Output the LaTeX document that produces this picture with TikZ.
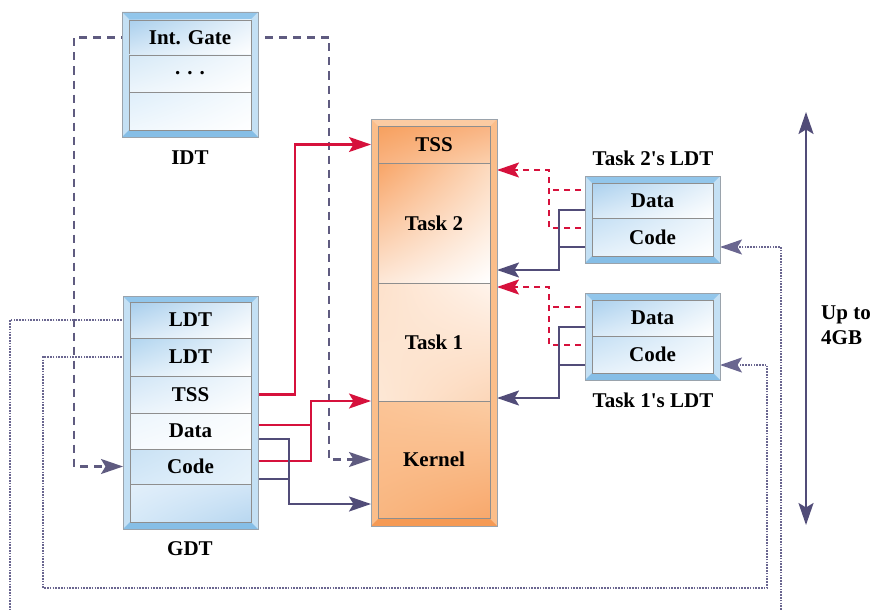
\documentclass[tikz,border=0pt]{standalone}
\usepackage{fontspec}
\setmainfont{Liberation Serif}
\usetikzlibrary{arrows.meta,calc,backgrounds,shadings}

% line colours
\definecolor{redc}{HTML}{D6113C}
\definecolor{purpc}{HTML}{514C78}
\definecolor{gatec}{HTML}{5F5B80}
\definecolor{dotc}{HTML}{6A6690}
\definecolor{rowgray}{HTML}{8E8E8E}
\definecolor{framegray}{HTML}{9AA3AC}
% blue tables
\definecolor{bside}{HTML}{C4E0F4}
\definecolor{btop}{HTML}{92C6EB}
\definecolor{bbot}{HTML}{86BEE6}
\definecolor{bGate}{HTML}{A9CFED}
\definecolor{bDots}{HTML}{D6E9F7}
\definecolor{bPale}{HTML}{DEEEFA}
\definecolor{bLdtA}{HTML}{A6CDEC}
\definecolor{bLdtB}{HTML}{B0D4EF}
\definecolor{bTSS}{HTML}{D0E5F6}
\definecolor{bData}{HTML}{ECF5FC}
\definecolor{bCodeA}{HTML}{C8E1F4}
\definecolor{bCodeB}{HTML}{E1EFFA}
\definecolor{bCodeC}{HTML}{D6E9F8}
\definecolor{bCodeD}{HTML}{E8F3FB}
\definecolor{bLowA}{HTML}{E2EFFA}
\definecolor{bLowB}{HTML}{D2E6F7}
\definecolor{bLowC}{HTML}{D6E9F8}
\definecolor{bLowD}{HTML}{B8D7F0}
\definecolor{bLdtData}{HTML}{AAD0EE}
\definecolor{bLdtCode}{HTML}{C4DFF4}
% orange column
\definecolor{oside}{HTML}{FBBE8A}
\definecolor{otop}{HTML}{FBCBA2}
\definecolor{obot}{HTML}{F59A55}
\definecolor{oTssA}{HTML}{F7A05E}
\definecolor{oTssB}{HTML}{F9B483}
\definecolor{oTssC}{HTML}{F9B27F}
\definecolor{oTssD}{HTML}{FBD0AD}
\definecolor{oTbA}{HTML}{F8A466}
\definecolor{oTbB}{HTML}{FCD9BD}
\definecolor{oTbC}{HTML}{FDE8D8}
\definecolor{oTaA}{HTML}{FDE1CB}
\definecolor{oTaB}{HTML}{FFF4EC}
\definecolor{oTaC}{HTML}{FDE8D6}
\definecolor{oTaD}{HTML}{FCD6B8}
\definecolor{oKA}{HTML}{FBC496}
\definecolor{oKB}{HTML}{FBCCA3}
\definecolor{oKC}{HTML}{F9B680}
\definecolor{oKD}{HTML}{F8A86C}

\newcommand\rowfont{\fontsize{21}{25}\selectfont\bfseries}

% bevelled frame drawn from the corners of a frame node
\newcommand\bevelframe[4]{%
  \fill[#2] (#1.south west) rectangle (#1.north east);
  \fill[#3] (#1.north west) -- (#1.north east) -- ([shift={(-7pt,-7pt)}]#1.north east)
            -- ([shift={(7pt,-7pt)}]#1.north west) -- cycle;
  \fill[#4] (#1.south west) -- (#1.south east) -- ([shift={(-7pt,7pt)}]#1.south east)
            -- ([shift={(7pt,7pt)}]#1.south west) -- cycle;
  \draw[framegray, line width=0.8pt] (#1.south west) rectangle (#1.north east);
}

\tikzset{
  framenode/.style={inner sep=0pt, outer sep=0pt, anchor=north west},
  rownode/.style={inner sep=0pt, outer sep=0pt, anchor=north west, font=\rowfont,
                  draw=rowgray, line width=0.9pt},
  shadeA/.style={upper left=#1, upper right=white!70!#1, lower left=white!55!#1, lower right=white},
  corners/.style n args={4}{upper left=#1, upper right=#2, lower left=#3, lower right=#4},
  arr/.style={-{Stealth[length=22pt,width=15pt,inset=4.5pt]}},
  redline/.style={draw=redc, line width=2.2pt},
  reddash/.style={draw=redc, line width=2.1pt, dash pattern=on 6pt off 5pt},
  purpline/.style={draw=purpc, line width=2.2pt},
  gateline/.style={draw=gatec, line width=2.1pt, dash pattern=on 8pt off 6pt},
  dotline/.style={draw=dotc, line width=2pt, dash pattern=on 1.6pt off 1.2pt},
  label/.style={font=\rowfont, inner sep=0pt},
}

\begin{document}
\begin{tikzpicture}[x=1pt,y=-1pt]
\useasboundingbox (0,0) rectangle (875,610);

% ---------- IDT ----------
\node[framenode, minimum width=136pt, minimum height=125pt] (idt) at (122,12) {};
\bevelframe{idt}{bside}{btop}{bbot}
\node[rownode, minimum width=122pt, minimum height=35pt, shadeA=bGate] (idtGate) at (129,20) {Int. Gate};
\node[rownode, minimum width=122pt, minimum height=37pt, shadeA=bDots] (idtDots) at (129,55) {. . .};
\node[rownode, minimum width=122pt, minimum height=38pt, shadeA=bPale] (idtBlank) at (129,92) {};
\node[label] (idtLabel) at (190,158) {IDT};

% ---------- GDT ----------
\node[framenode, minimum width=135pt, minimum height=233pt] (gdt) at (123,296) {};
\bevelframe{gdt}{bside}{btop}{bbot}
\node[rownode, minimum width=121pt, minimum height=36pt, shadeA=bLdtA] (gdtLdtA) at (130,302) {LDT};
\node[rownode, minimum width=121pt, minimum height=38pt, shadeA=bLdtB] (gdtLdtB) at (130,338) {LDT};
\node[rownode, minimum width=121pt, minimum height=37pt, shadeA=bTSS] (gdtTSS) at (130,376) {TSS};
\node[rownode, minimum width=121pt, minimum height=36pt, shadeA=bData] (gdtData) at (130,413) {Data};
\node[rownode, minimum width=121pt, minimum height=35pt, corners={bCodeA}{bCodeB}{bCodeC}{bCodeD}] (gdtCode) at (130,449) {Code};
\node[rownode, minimum width=121pt, minimum height=38pt, corners={bLowA}{bLowB}{bLowC}{bLowD}] (gdtBlank) at (130,484) {};
\node[label] (gdtLabel) at (190,549) {GDT};

% ---------- memory column ----------
\node[framenode, minimum width=126pt, minimum height=407pt] (mem) at (371,119) {};
\bevelframe{mem}{oside}{otop}{obot}
\node[rownode, minimum width=112pt, minimum height=37pt, corners={oTssA}{oTssB}{oTssC}{oTssD}] (memTSS) at (378,126) {TSS};
\node[rownode, minimum width=112pt, minimum height=120pt, corners={oTbA}{oTbB}{oTbC}{white}] (memTaskB) at (378,163) {Task 2};
\node[rownode, minimum width=112pt, minimum height=118pt, corners={oTaA}{oTaB}{oTaC}{oTaD}] (memTaskA) at (378,283) {Task 1};
\node[rownode, minimum width=112pt, minimum height=117pt, corners={oKA}{oKB}{oKC}{oKD}] (memKernel) at (378,401) {Kernel};

% ---------- task 2 LDT ----------
\node[framenode, minimum width=135pt, minimum height=87pt] (ldtB) at (585,176) {};
\bevelframe{ldtB}{bside}{btop}{bbot}
\node[rownode, minimum width=121pt, minimum height=35pt, shadeA=bLdtData] (ldtBData) at (592,183) {Data};
\node[rownode, minimum width=121pt, minimum height=38pt, shadeA=bLdtCode] (ldtBCode) at (592,218) {Code};
\node[label] (ldtBLabel) at (653,158) {Task 2\textquotesingle s LDT};

% ---------- task 1 LDT ----------
\node[framenode, minimum width=135pt, minimum height=87pt] (ldtA) at (585,293) {};
\bevelframe{ldtA}{bside}{btop}{bbot}
\node[rownode, minimum width=121pt, minimum height=36pt, shadeA=bLdtData] (ldtAData) at (592,300) {Data};
\node[rownode, minimum width=121pt, minimum height=37pt, shadeA=bLdtCode] (ldtACode) at (592,336) {Code};
\node[label] (ldtALabel) at (653,400) {Task 1\textquotesingle s LDT};

% ---------- address range ----------
\coordinate (rangeTop) at (806,112);
\coordinate (rangeBot) at (806,525);
\draw[purpline, {Stealth[length=22pt,width=15pt,inset=4.5pt]}-{Stealth[length=22pt,width=15pt,inset=4.5pt]}] (rangeTop) -- (rangeBot);
\node[font=\fontsize{21}{25}\selectfont\bfseries, align=left, anchor=west, inner sep=0pt] (upto) at (821,325) {Up to\\4GB};

% ---------- connectors, under the tables ----------
\begin{scope}[on background layer]
\fill[white] (0,0) rectangle (875,610);
\clip (0,0) rectangle (875,610);

% interrupt gate: to the code descriptor and to the kernel
\draw[gateline, arr] (idtGate.west) -- ++(-55,0) |- (gdt.west |- gdtCode);
\draw[gateline, arr] (idtGate.east) -- ++(78,0) |- (mem.west |- memKernel);

% GDT TSS, data and code
\draw[redline, arr] (gdtTSS.east) -- ++(44,0) |- (mem.west |- memTSS);
\draw[redline] ([yshift=6pt]gdtData.east) -- ++(60,0);
\draw[redline, arr] ([yshift=5.5pt]gdtCode.east) -- ++(60,0) |- (mem.west |- memKernel.north);
\draw[purpline, arr] ([yshift=-8pt]gdtData.east) -- ++(38,0) |- ($(mem.west |- memKernel)+(0,44.5)$);
\draw[purpline] ([yshift=-12.5pt]gdtCode.east) -- ++(38,0);

% task 2 LDT
\draw[reddash] ([yshift=10.5pt]ldtBData.west) -- ++(-43,0);
\draw[reddash, arr] ([yshift=9pt]ldtBCode.west) -- ++(-43,0) |- ($(mem.east |- memTaskB.north)+(0,7)$);
\draw[purpline, arr] ([yshift=-9.5pt]ldtBData.west) -- ++(-33,0) |- ($(mem.east |- memTaskB.south)+(0,-13)$);
\draw[purpline] ([yshift=-10pt]ldtBCode.west) -- ++(-33,0);

% task 1 LDT
\draw[reddash] ([yshift=11pt]ldtAData.west) -- ++(-43,0);
\draw[reddash, arr] ([yshift=9.5pt]ldtACode.west) -- ++(-43,0) |- ($(mem.east |- memTaskA.north)+(0,4)$);
\draw[purpline, arr] ([yshift=-9pt]ldtAData.west) -- ++(-33,0) |- ($(mem.east |- memTaskA.south)+(0,-3)$);
\draw[purpline] ([yshift=-10.5pt]ldtACode.west) -- ++(-33,0);

% LDT descriptors to the task LDTs
\draw[dotline, arr] (gdtLdtB.west) -- ++(-87,0) -- ++(0,231) -- ++(724,0) |- ($(ldtA.east |- ldtACode)+(0,10.5)$);
\draw[dotline, arr] (gdtLdtA.west) -- ++(-120,0) -- ++(0,300) -- ++(771,0) |- ($(ldtB.east |- ldtBCode)+(0,10)$);
\end{scope}
\end{tikzpicture}
\end{document}
